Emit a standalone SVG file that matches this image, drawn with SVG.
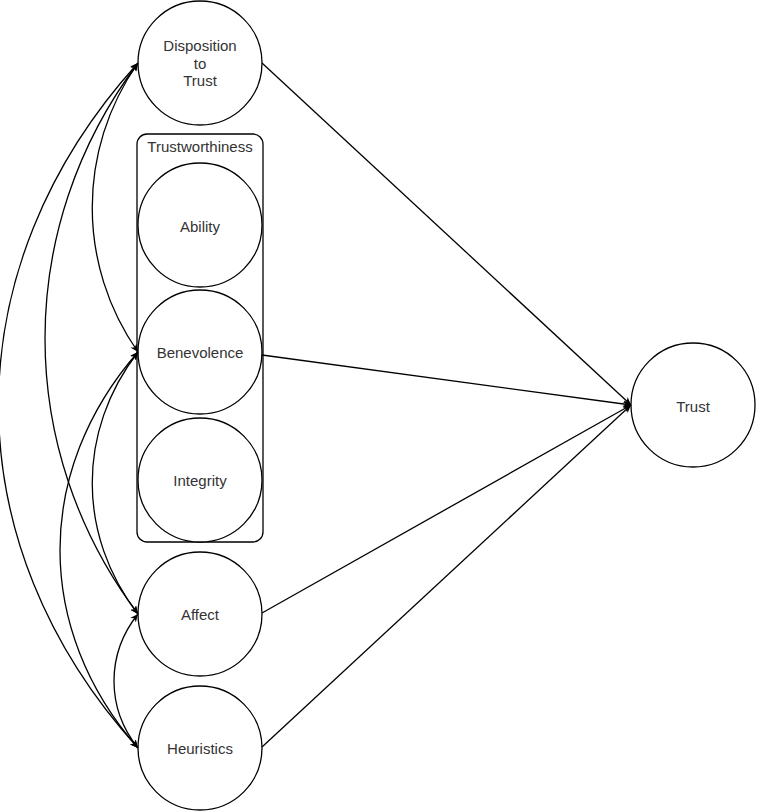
<svg xmlns="http://www.w3.org/2000/svg" width="757" height="811" viewBox="0 0 757 811">
<style>
.n{fill:#fff;stroke:#000;stroke-width:1.3}
.t{font-family:"Liberation Sans",Arial,sans-serif;font-size:15px;fill:#333;text-anchor:middle}
.c{fill:none;stroke:#000;stroke-width:1.3}
</style>
<defs>
<marker id="ah" viewBox="0 0 10 10" refX="10" refY="5" markerWidth="8" markerHeight="8" markerUnits="userSpaceOnUse" orient="auto-start-reverse">
<path d="M0,0.5 L10,5 L0,9.5 L3,5 z" fill="#000"/>
</marker>
</defs>
<rect width="757" height="811" fill="#fff"/>
<g id="trustworthiness">
<rect x="137" y="134" width="126" height="408" rx="10" class="n"/>
<text x="200" y="152" class="t">Trustworthiness</text>
</g>
<g id="disposition">
<circle cx="200" cy="63" r="62" class="n"/>
<text x="200" y="51" class="t">Disposition</text>
<text x="200" y="68.5" class="t">to</text>
<text x="200" y="86" class="t">Trust</text>
</g>
<g id="ability">
<circle cx="200" cy="225" r="62" class="n"/>
<text x="200" y="231.5" class="t">Ability</text>
</g>
<g id="benevolence">
<circle cx="200" cy="352" r="62" class="n"/>
<text x="200" y="358" class="t">Benevolence</text>
</g>
<g id="integrity">
<circle cx="200" cy="480" r="62" class="n"/>
<text x="200" y="485.5" class="t">Integrity</text>
</g>
<g id="affect">
<circle cx="200" cy="614" r="62" class="n"/>
<text x="200" y="620" class="t">Affect</text>
</g>
<g id="heuristics">
<circle cx="200" cy="748" r="62" class="n"/>
<text x="200" y="753.5" class="t">Heuristics</text>
</g>
<g id="trust">
<circle cx="693" cy="405" r="62" class="n"/>
<text x="693" y="411.5" class="t">Trust</text>
</g>
<g id="connectors">
<path class="c" marker-start="url(#ah)" marker-end="url(#ah)" d="M138,63 C77,150 77,265 138,352"/>
<path class="c" marker-start="url(#ah)" marker-end="url(#ah)" d="M138,63 C14,228 14,449 138,614"/>
<path class="c" marker-start="url(#ah)" marker-end="url(#ah)" d="M138,63 C-48,268 -48,543 138,748"/>
<path class="c" marker-start="url(#ah)" marker-end="url(#ah)" d="M138,352 C77,431 77,535 138,614"/>
<path class="c" marker-start="url(#ah)" marker-end="url(#ah)" d="M138,352 C34,471 34,629 138,748"/>
<path class="c" marker-start="url(#ah)" marker-end="url(#ah)" d="M138,614 C106,654 106,708 138,748"/>
<path class="c" marker-end="url(#ah)" d="M262,63 L631,405"/>
<path class="c" marker-end="url(#ah)" d="M262,355 L631,405"/>
<path class="c" marker-end="url(#ah)" d="M262,613 L631,405"/>
<path class="c" marker-end="url(#ah)" d="M262,747 L631,405"/>
</g>
</svg>
